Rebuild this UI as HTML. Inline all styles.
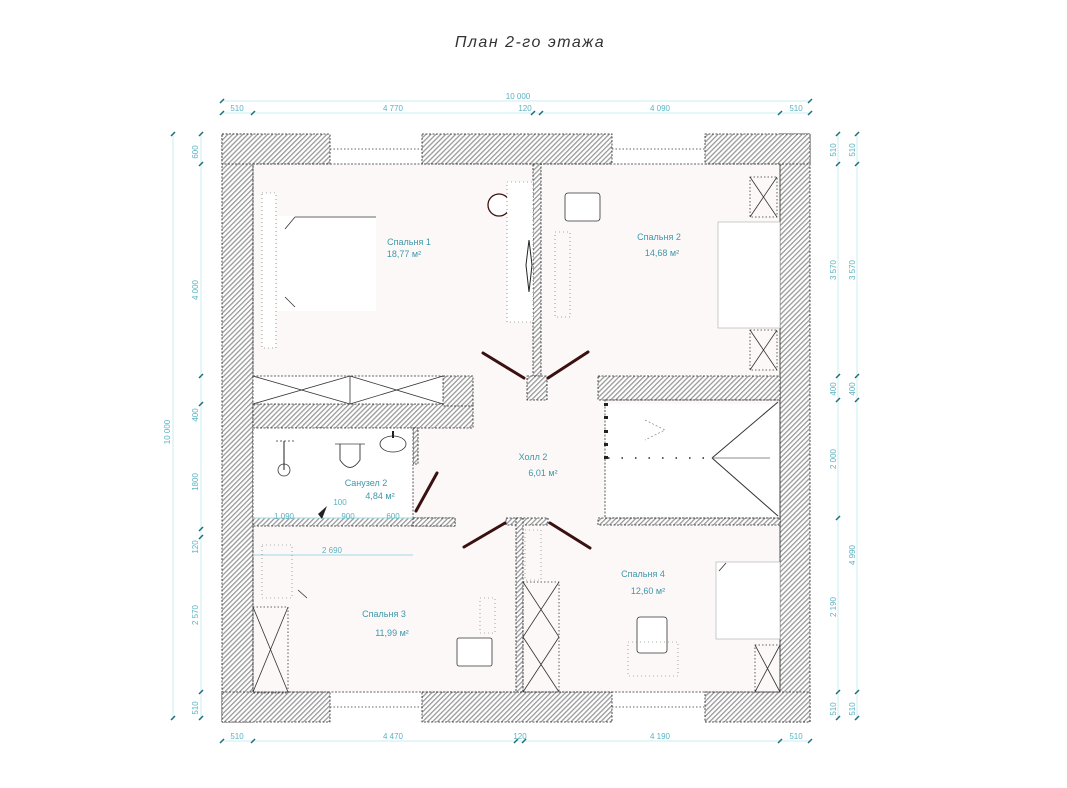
<!DOCTYPE html>
<html><head><meta charset="utf-8"><style>
html,body{margin:0;padding:0;background:#fff;}
svg{display:block;}
text{font-family:"Liberation Sans","DejaVu Sans",sans-serif;}
.d{fill:#5bb3c2;font-size:8px;}
.l{fill:#3d98aa;font-size:9px;}
.dl{stroke:#c8eef2;stroke-width:1;fill:none;}
.tk{stroke:#1c6f7a;stroke-width:1.5;}
.w{fill:url(#h);stroke:#222;stroke-width:0.8;stroke-dasharray:2 1.5;}
.f{stroke:#333;stroke-width:0.8;fill:none;}
.fd{stroke:#333;stroke-width:0.8;fill:none;stroke-dasharray:1.5 2;}
.dr{stroke:#3a1010;stroke-width:3;stroke-linecap:round;}
</style></head><body>
<svg width="1067" height="788" viewBox="0 0 1067 788" xmlns="http://www.w3.org/2000/svg">
<defs>
<pattern id="h" width="3.5" height="3.5" patternUnits="userSpaceOnUse" patternTransform="rotate(-45)">
<rect width="3.5" height="3.5" fill="#fff"/><rect width="3.5" height="1.3" fill="#999"/>
</pattern>
</defs>
<text x="530" y="47" text-anchor="middle" font-size="16" font-style="italic" fill="#333" letter-spacing="1.5">План 2-го этажа</text>

<rect x="253" y="164" width="527" height="528" fill="#fdf8f8"/>
<rect x="605" y="404" width="175" height="114" fill="#fff"/>

<line class="dl" x1="222" y1="101" x2="810" y2="101"/>
<line class="dl" x1="222" y1="113" x2="810" y2="113"/>
<g class="tk"><line x1="220" y1="103" x2="224" y2="99"/><line x1="808" y1="103" x2="812" y2="99"/>
<line x1="220" y1="115" x2="224" y2="111"/><line x1="251" y1="115" x2="255" y2="111"/><line x1="531" y1="115" x2="535" y2="111"/><line x1="539" y1="115" x2="543" y2="111"/><line x1="778" y1="115" x2="782" y2="111"/><line x1="808" y1="115" x2="812" y2="111"/></g>
<text class="d" x="518" y="99" text-anchor="middle">10 000</text>
<text class="d" x="237" y="111" text-anchor="middle">510</text>
<text class="d" x="393" y="111" text-anchor="middle">4 770</text>
<text class="d" x="525" y="111" text-anchor="middle">120</text>
<text class="d" x="660" y="111" text-anchor="middle">4 090</text>
<text class="d" x="796" y="111" text-anchor="middle">510</text>
<line class="dl" x1="222" y1="741" x2="810" y2="741"/>
<g class="tk"><line x1="220" y1="743" x2="224" y2="739"/><line x1="251" y1="743" x2="255" y2="739"/><line x1="514" y1="743" x2="518" y2="739"/><line x1="522" y1="743" x2="526" y2="739"/><line x1="778" y1="743" x2="782" y2="739"/><line x1="808" y1="743" x2="812" y2="739"/></g>
<text class="d" x="237" y="739" text-anchor="middle">510</text>
<text class="d" x="393" y="739" text-anchor="middle">4 470</text>
<text class="d" x="520" y="739" text-anchor="middle">120</text>
<text class="d" x="660" y="739" text-anchor="middle">4 190</text>
<text class="d" x="796" y="739" text-anchor="middle">510</text>
<line class="dl" x1="173" y1="134" x2="173" y2="720"/>
<line class="dl" x1="201" y1="134" x2="201" y2="720"/>
<g class="tk"><line x1="171" y1="136" x2="175" y2="132"/><line x1="171" y1="720" x2="175" y2="716"/>
<line x1="199" y1="136" x2="203" y2="132"/><line x1="199" y1="166" x2="203" y2="162"/><line x1="199" y1="378" x2="203" y2="374"/><line x1="199" y1="406" x2="203" y2="402"/><line x1="199" y1="531" x2="203" y2="527"/><line x1="199" y1="539" x2="203" y2="535"/><line x1="199" y1="694" x2="203" y2="690"/><line x1="199" y1="720" x2="203" y2="716"/></g>
<g class="d" text-anchor="middle">
<text transform="translate(170,432) rotate(-90)">10 000</text>
<text transform="translate(198,152) rotate(-90)">600</text>
<text transform="translate(198,290) rotate(-90)">4 000</text>
<text transform="translate(198,415) rotate(-90)">400</text>
<text transform="translate(198,482) rotate(-90)">1800</text>
<text transform="translate(198,547) rotate(-90)">120</text>
<text transform="translate(198,615) rotate(-90)">2 570</text>
<text transform="translate(198,708) rotate(-90)">510</text>
</g>
<line class="dl" x1="838" y1="134" x2="838" y2="720"/>
<line class="dl" x1="857" y1="134" x2="857" y2="720"/>
<g class="tk"><line x1="836" y1="136" x2="840" y2="132"/><line x1="836" y1="166" x2="840" y2="162"/><line x1="836" y1="378" x2="840" y2="374"/><line x1="836" y1="402" x2="840" y2="398"/><line x1="836" y1="520" x2="840" y2="516"/><line x1="836" y1="694" x2="840" y2="690"/><line x1="836" y1="720" x2="840" y2="716"/>
<line x1="855" y1="136" x2="859" y2="132"/><line x1="855" y1="166" x2="859" y2="162"/><line x1="855" y1="378" x2="859" y2="374"/><line x1="855" y1="402" x2="859" y2="398"/><line x1="855" y1="694" x2="859" y2="690"/><line x1="855" y1="720" x2="859" y2="716"/></g>
<g class="d" text-anchor="middle">
<text transform="translate(836,150) rotate(-90)">510</text><text transform="translate(855,150) rotate(-90)">510</text>
<text transform="translate(836,270) rotate(-90)">3 570</text><text transform="translate(855,270) rotate(-90)">3 570</text>
<text transform="translate(836,389) rotate(-90)">400</text><text transform="translate(855,389) rotate(-90)">400</text>
<text transform="translate(836,459) rotate(-90)">2 000</text>
<text transform="translate(855,555) rotate(-90)">4 990</text>
<text transform="translate(836,607) rotate(-90)">2 190</text>
<text transform="translate(836,709) rotate(-90)">510</text><text transform="translate(855,709) rotate(-90)">510</text>
</g>

<rect class="w" x="222" y="134" width="31" height="588"/>
<rect class="w" x="780" y="134" width="30" height="588"/>
<rect class="w" x="222" y="134" width="108" height="30"/>
<rect class="w" x="422" y="134" width="190" height="30"/>
<rect class="w" x="705" y="134" width="105" height="30"/>
<rect class="w" x="222" y="692" width="108" height="30"/>
<rect class="w" x="422" y="692" width="190" height="30"/>
<rect class="w" x="705" y="692" width="105" height="30"/>
<g class="fd"><line x1="330" y1="149" x2="422" y2="149"/><line x1="612" y1="149" x2="705" y2="149"/><line x1="330" y1="707" x2="422" y2="707"/><line x1="612" y1="707" x2="705" y2="707"/></g>
<rect x="253" y="164" width="527" height="528" fill="none" stroke="#333" stroke-width="0.8" stroke-dasharray="2 1.5"/>

<rect class="w" x="533" y="164" width="8" height="212"/>
<rect class="w" x="253" y="404" width="220" height="24"/>
<rect class="w" x="443" y="376" width="30" height="30"/>
<rect class="w" x="527" y="376" width="20" height="24"/>
<rect class="w" x="598" y="376" width="182" height="24"/>
<rect class="w" x="318" y="428" width="5" height="38"/>
<rect class="w" x="413" y="428" width="5" height="36"/>
<rect class="w" x="253" y="518" width="202" height="8"/>
<rect class="w" x="413" y="518" width="42" height="8"/>
<rect class="w" x="506" y="518" width="42" height="7"/>
<rect class="w" x="516" y="518" width="7" height="174"/>
<rect class="w" x="598" y="518" width="182" height="7"/>
<rect x="605" y="400" width="175" height="118" fill="none" stroke="#333" stroke-width="0.8" stroke-dasharray="2 1.5"/>

<rect x="253" y="376" width="190" height="28" fill="#fff" stroke="#333" stroke-width="0.8" stroke-dasharray="2 1.5"/>
<g class="f"><line x1="350" y1="376" x2="350" y2="404"/><line x1="253" y1="376" x2="350" y2="404"/><line x1="253" y1="404" x2="350" y2="376"/><line x1="350" y1="376" x2="443" y2="404"/><line x1="350" y1="404" x2="443" y2="376"/></g>

<rect x="262" y="193" width="14" height="155" fill="#fff" stroke="#555" stroke-width="0.6" stroke-dasharray="1 3"/>
<rect x="277" y="216" width="99" height="95" fill="#fff"/>
<g class="f"><line x1="295" y1="217" x2="376" y2="217"/><line x1="295" y1="217" x2="285" y2="229"/><line x1="285" y1="297" x2="295" y2="307"/></g>
<circle cx="499" cy="205" r="11" fill="#fff" stroke="#3a1010" stroke-width="1.3"/>
<rect x="507" y="182" width="26" height="140" fill="#fff" stroke="#555" stroke-width="0.6" stroke-dasharray="1 3"/>
<path d="M529 240 L526 265 L529 292 L532 265 Z" fill="none" stroke="#222" stroke-width="1"/>
<rect x="565" y="193" width="35" height="28" rx="3" fill="#fff" stroke="#333" stroke-width="0.8"/>
<rect x="555" y="232" width="15" height="85" fill="none" stroke="#555" stroke-width="0.6" stroke-dasharray="1 3"/>
<rect x="718" y="222" width="62" height="106" fill="#fff" stroke="#aaa" stroke-width="0.6"/>
<g class="f"><rect x="750" y="177" width="27" height="40" fill="#fdf8f8" stroke-dasharray="1.5 2"/><line x1="750" y1="177" x2="777" y2="217"/><line x1="777" y1="177" x2="750" y2="217"/>
<rect x="750" y="330" width="27" height="40" fill="#fdf8f8" stroke-dasharray="1.5 2"/><line x1="750" y1="330" x2="777" y2="370"/><line x1="777" y1="330" x2="750" y2="370"/></g>
<g stroke="#333" stroke-width="1"><line x1="712" y1="458" x2="778" y2="402"/><line x1="712" y1="458" x2="778" y2="516"/></g>
<line x1="712" y1="458" x2="770" y2="458" stroke="#666" stroke-width="0.8"/>
<line x1="608" y1="458" x2="712" y2="458" stroke="#222" stroke-width="1.5" stroke-dasharray="1.5 12"/>
<path d="M645 420 L665 430 L645 440" fill="none" stroke="#888" stroke-width="0.7" stroke-dasharray="2 2"/>
<g fill="#222"><rect x="604" y="403" width="4" height="3"/><rect x="604" y="416" width="4" height="3"/><rect x="604" y="430" width="4" height="3"/><rect x="604" y="443" width="4" height="3"/><rect x="604" y="456" width="4" height="3"/></g>

<rect x="253" y="428" width="160" height="90" fill="#fff"/>
<rect x="253" y="428" width="160" height="90" fill="none" stroke="#333" stroke-width="0.8" stroke-dasharray="2 1.5"/>
<circle cx="284" cy="470" r="6" fill="none" stroke="#333" stroke-width="0.8"/>
<line x1="284" y1="441" x2="284" y2="470" stroke="#222" stroke-width="1"/>
<line x1="276" y1="441" x2="294" y2="441" stroke="#333" stroke-width="0.8" stroke-dasharray="2 2"/>
<path d="M340 444 L340 460 Q350 475 360 460 L360 444" fill="none" stroke="#444" stroke-width="1"/>
<path d="M335 444 L365 444" stroke="#444" stroke-width="0.8"/>
<ellipse cx="393" cy="444" rx="13" ry="8" fill="none" stroke="#333" stroke-width="0.8"/>
<line x1="393" y1="431" x2="393" y2="438" stroke="#222" stroke-width="2"/>
<line class="dl" x1="253" y1="518" x2="413" y2="518" style="stroke:#9fd9e0"/>
<text class="l" x="366" y="486" text-anchor="middle" font-size="8.5">Санузел 2</text>
<text class="l" x="380" y="499" text-anchor="middle" font-size="8">4,84 м²</text>
<text class="d" x="340" y="505" text-anchor="middle">100</text>
<text class="d" x="284" y="519" text-anchor="middle">1 090</text>
<text class="d" x="348" y="519" text-anchor="middle">900</text>
<text class="d" x="393" y="519" text-anchor="middle">600</text>
<path d="M327 506 L322 519 L318 514 Z" fill="#222"/>

<line class="dl" x1="253" y1="555" x2="413" y2="555" style="stroke:#9fd9e0"/>
<text class="d" x="332" y="553" text-anchor="middle">2 690</text>
<rect x="262" y="545" width="30" height="53" fill="none" stroke="#666" stroke-width="0.6" stroke-dasharray="1 3"/>
<line x1="298" y1="590" x2="307" y2="598" stroke="#333" stroke-width="0.8"/>
<g class="f"><rect x="253" y="607" width="35" height="86" stroke-dasharray="1.5 2"/><line x1="253" y1="607" x2="288" y2="692"/><line x1="288" y1="607" x2="253" y2="692"/></g>
<rect x="457" y="638" width="35" height="28" rx="2" fill="#fff" stroke="#333" stroke-width="0.8"/>
<rect x="480" y="598" width="15" height="35" fill="none" stroke="#666" stroke-width="0.6" stroke-dasharray="1 3"/>
<g class="f"><rect x="523" y="582" width="36" height="110" stroke-dasharray="1.5 2"/><line x1="523" y1="582" x2="559" y2="637"/><line x1="559" y1="582" x2="523" y2="637"/><line x1="523" y1="637" x2="559" y2="692"/><line x1="559" y1="637" x2="523" y2="692"/></g>
<rect x="525" y="530" width="16" height="50" fill="none" stroke="#666" stroke-width="0.6" stroke-dasharray="1 3"/>
<rect x="716" y="562" width="64" height="77" fill="#fff" stroke="#aaa" stroke-width="0.6"/>
<line x1="719" y1="571" x2="726" y2="563" stroke="#333" stroke-width="0.8"/>
<g class="f"><rect x="755" y="645" width="25" height="47" stroke-dasharray="1.5 2"/><line x1="755" y1="645" x2="780" y2="692"/><line x1="780" y1="645" x2="755" y2="692"/></g>
<rect x="637" y="617" width="30" height="36" rx="3" fill="#fff" stroke="#333" stroke-width="0.8"/>
<rect x="628" y="642" width="50" height="34" fill="none" stroke="#666" stroke-width="0.6" stroke-dasharray="1 3"/>

<g class="dr"><line x1="483" y1="353" x2="524" y2="378"/><line x1="588" y1="352" x2="548" y2="378"/>
<line x1="437" y1="473" x2="416" y2="511"/><line x1="464" y1="547" x2="505" y2="523"/><line x1="590" y1="548" x2="550" y2="523"/></g>

<text class="l" x="409" y="245" text-anchor="middle">Спальня 1</text>
<text class="l" x="404" y="257" text-anchor="middle" font-size="8">18,77 м²</text>
<text class="l" x="659" y="240" text-anchor="middle">Спальня 2</text>
<text class="l" x="662" y="256" text-anchor="middle" font-size="8">14,68 м²</text>
<text class="l" x="533" y="460" text-anchor="middle">Холл 2</text>
<text class="l" x="543" y="476" text-anchor="middle" font-size="8">6,01 м²</text>
<text class="l" x="384" y="617" text-anchor="middle">Спальня 3</text>
<text class="l" x="392" y="636" text-anchor="middle" font-size="8">11,99 м²</text>
<text class="l" x="643" y="577" text-anchor="middle">Спальня 4</text>
<text class="l" x="648" y="594" text-anchor="middle" font-size="8">12,60 м²</text>
</svg>
</body></html>
